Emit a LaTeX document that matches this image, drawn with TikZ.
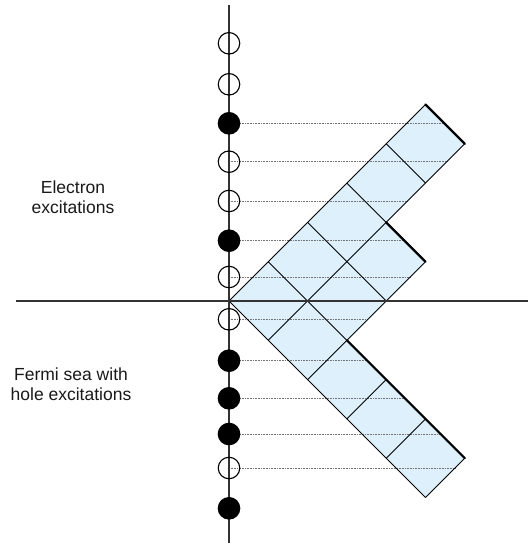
\documentclass[tikz,border=0pt]{standalone}
\usepackage{fontspec}
\setmainfont{Liberation Sans}
\definecolor{cellblue}{RGB}{221,240,252}
\begin{document}
\begin{tikzpicture}[x=1pt,y=-1pt,
  axisline/.style={line width=1.3pt,black!80},
  cellline/.style={line width=0.9pt,black},
  thickedge/.style={line width=2.2pt,black,line cap=round},
  dotline/.style={line width=0.7pt,black!55,dash pattern=on 0.8pt off 0.8pt},
  occ/.style={circle,draw=black,fill=black,line width=1.1pt,minimum size=21.5pt,inner sep=0pt},
  emp/.style={circle,draw=black,line width=1.1pt,minimum size=21.5pt,inner sep=0pt},
  lbl/.style={align=center,font=\fontsize{17.5}{20.5}\selectfont,text=black!90}]
\useasboundingbox (0,0) rectangle (528,543);
% lattice points of the rotated diagram
\foreach \a in {0,...,5}{\foreach \b in {0,...,5}{
  \coordinate (p\a\b) at ({229+39.3*(\a+\b)},{301-39.3*(\a-\b)});}}
% fill of the diagram
\fill[cellblue] (p00) -- (p50) -- (p51) -- (p31) -- (p32) -- (p12) -- (p15) -- (p05) -- cycle;
% dotted projection lines
\foreach \i/\y/\xe in {3/123.3/444.3, 4/161.7/446.9, 5/201/407.6, 6/240.7/404.5, 7/277/410.2,
                       8/319.3/367.9, 9/360.7/367.3, 10/398.3/404.9, 11/434/440.6, 12/468/455}{
  \coordinate (s\i) at (229,\y);
  \coordinate (e\i) at (\xe,\y);
  \draw[dotline] (s\i) -- (e\i);}
% grid lines of the diagram
\draw[cellline] (p00) -- (p50);
\draw[cellline] (p01) -- (p51);
\draw[cellline] (p02) -- (p32);
\draw[cellline] (p03) -- (p13);
\draw[cellline] (p04) -- (p14);
\draw[cellline] (p05) -- (p15);
\draw[cellline] (p00) -- (p05);
\draw[cellline] (p10) -- (p15);
\draw[cellline] (p20) -- (p22);
\draw[cellline] (p30) -- (p32);
\draw[cellline] (p40) -- (p41);
% thick edges
\draw[thickedge] (p50) -- (p51);
\draw[thickedge] (p31) -- (p32);
\draw[thickedge] (p12) -- (p15);
% axes
\coordinate (vt) at (229,5);
\coordinate (vb) at (229,543);
\coordinate (hl) at (16,301);
\coordinate (hr) at (528,301);
\draw[axisline] (vt) -- (vb);
\draw[axisline] (hl) -- (hr);
% circles
\foreach \i/\y/\st in {1/43.3/emp, 2/84.3/emp, 3/123.3/occ, 4/161.7/emp, 5/201/emp, 6/240.7/occ,
                       7/277/emp, 8/319.3/emp, 9/360.7/occ, 10/398.3/occ, 11/434/occ, 12/468/emp, 13/508.3/occ}{
  \node[\st] (c\i) at (229,\y) {};}
% labels
\node[lbl] (elec) at (73,197) {Electron\\excitations};
\node[lbl] (fermi) at (71,384) {Fermi sea with\\hole excitations};
\end{tikzpicture}
\end{document}
